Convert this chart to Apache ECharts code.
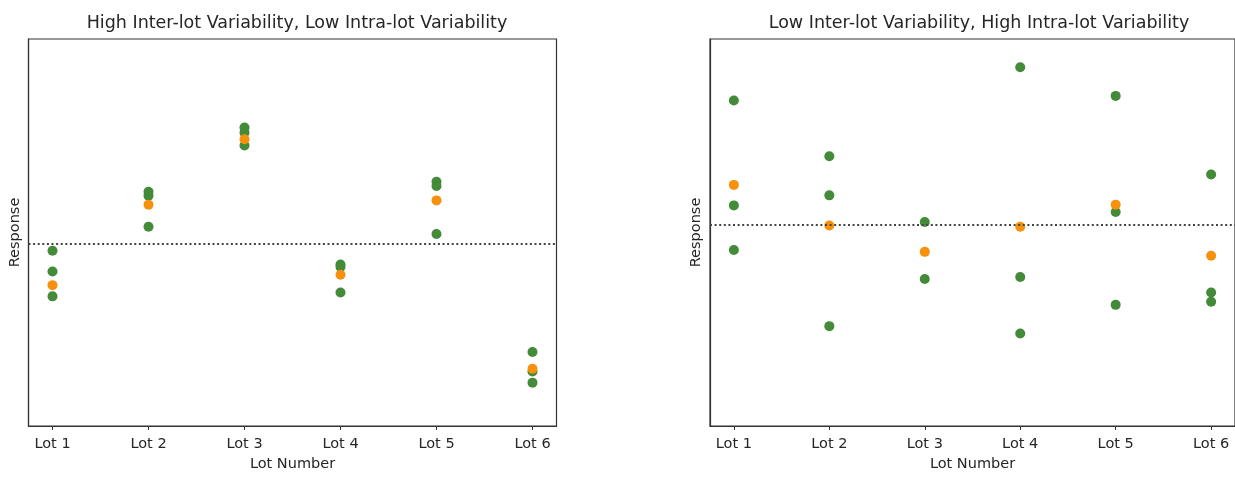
<!DOCTYPE html>
<html>
<head>
<meta charset="utf-8">
<script src="https://cdn.jsdelivr.net/npm/echarts@6/dist/echarts.min.js"></script>
<style>
  html, body { margin: 0; padding: 0; background: #fff; }
  #chart { width: 1235px; height: 477px; }
</style>
</head>
<body>
<div id="chart"></div>
<script>
// x positions are lot indices 0..5
var lots = ['Lot 1', 'Lot 2', 'Lot 3', 'Lot 4', 'Lot 5', 'Lot 6'];
var titles = ['High Inter-lot Variability, Low Intra-lot Variability',
              'Low Inter-lot Variability, High Intra-lot Variability'];

// left panel: high inter-lot, low intra-lot
var leftGreen = [
  [0, 45.3], [0, 39.9], [0, 33.5],
  [1, 60.5], [1, 59.5], [1, 51.5],
  [2, 77.1], [2, 75.8], [2, 72.5],
  [3, 41.7], [3, 41.1], [3, 34.5],
  [4, 63.1], [4, 62.0], [4, 49.6],
  [5, 19.1], [5, 14.1], [5, 11.2]
];
var leftOrange = [[0, 36.4], [1, 57.2], [2, 74.1], [3, 39.1], [4, 58.3], [5, 14.8]];

// right panel: low inter-lot, high intra-lot
var rightGreen = [
  [0, 84.1], [0, 57.0], [0, 45.5],
  [1, 69.7], [1, 59.6], [1, 25.8],
  [2, 52.7], [2, 38.0],
  [3, 92.7], [3, 38.5], [3, 23.9],
  [4, 85.3], [4, 55.3], [4, 31.3],
  [5, 65.0], [5, 34.5], [5, 32.1]
];
var rightOrange = [[0, 62.3], [1, 51.8], [2, 45.0], [3, 51.5], [4, 57.2], [5, 44.0]];

var refLine = [47.0, 52.1];

var green = '#438a39';
var orange = '#f7900a';
var ink = '#262626';

var chart = echarts.init(document.getElementById('chart'));

function xAxis(i) {
  return {
    type: 'value', gridIndex: i, min: -0.25, max: 5.25,
    name: 'Lot Number', nameLocation: 'middle', nameGap: 31,
    nameTextStyle: { fontSize: 14.5, color: ink, fontFamily: 'DejaVu Sans' },
    axisLine: { show: true, onZero: false, lineStyle: { color: '#333', width: 1.2 } },
    axisTick: { show: true, length: 4, customValues: [0, 1, 2, 3, 4, 5], lineStyle: { color: '#333' } },
    axisLabel: {
      customValues: [0, 1, 2, 3, 4, 5], margin: 11, fontSize: 14.5, color: ink, fontFamily: 'DejaVu Sans',
      formatter: function (v) { return lots[Math.round(v)]; }
    },
    splitLine: { show: false }
  };
}

function yAxis(i) {
  return {
    type: 'value', gridIndex: i, min: 0, max: 100,
    name: 'Response', nameLocation: 'middle', nameGap: 6,
    nameTextStyle: { fontSize: 14.5, color: ink, fontFamily: 'DejaVu Sans' },
    axisLine: { show: true, onZero: false, lineStyle: { color: '#333', width: 1.2 } },
    axisTick: { show: false },
    axisLabel: { show: false },
    splitLine: { show: false }
  };
}

function dots(i, data, color) {
  return {
    type: 'scatter', xAxisIndex: i, yAxisIndex: i, data: data,
    symbolSize: 10, itemStyle: { color: color, opacity: 1 }, silent: true
  };
}

function withLine(s, y) {
  s.markLine = {
    silent: true, symbol: 'none', label: { show: false },
    lineStyle: { color: '#444', type: [2, 2.6], width: 2 },
    data: [{ yAxis: y }]
  };
  s.z = 2;
  return s;
}

chart.setOption({
  animation: false,
  backgroundColor: '#fff',
  title: [
    { text: titles[0], left: 292, top: 9, textAlign: 'center',
      textStyle: { fontSize: 17.5, fontWeight: 'normal', color: ink, fontFamily: 'DejaVu Sans' } },
    { text: titles[1], left: 974, top: 9, textAlign: 'center',
      textStyle: { fontSize: 17.5, fontWeight: 'normal', color: ink, fontFamily: 'DejaVu Sans' } }
  ],
  grid: [
    { left: 28.5, top: 39, width: 528, height: 393, show: true, borderColor: '#333', borderWidth: 1.2 },
    { left: 710, top: 39, width: 528, height: 393, show: true, borderColor: '#333', borderWidth: 1.2 }
  ],
  xAxis: [xAxis(0), xAxis(1)],
  yAxis: [yAxis(0), yAxis(1)],
  series: [
    withLine(dots(0, [], green), refLine[0]),
    dots(0, leftGreen, green),
    dots(0, leftOrange, orange),
    withLine(dots(1, [], green), refLine[1]),
    dots(1, rightGreen, green),
    dots(1, rightOrange, orange)
  ]
});
</script>
</body>
</html>
